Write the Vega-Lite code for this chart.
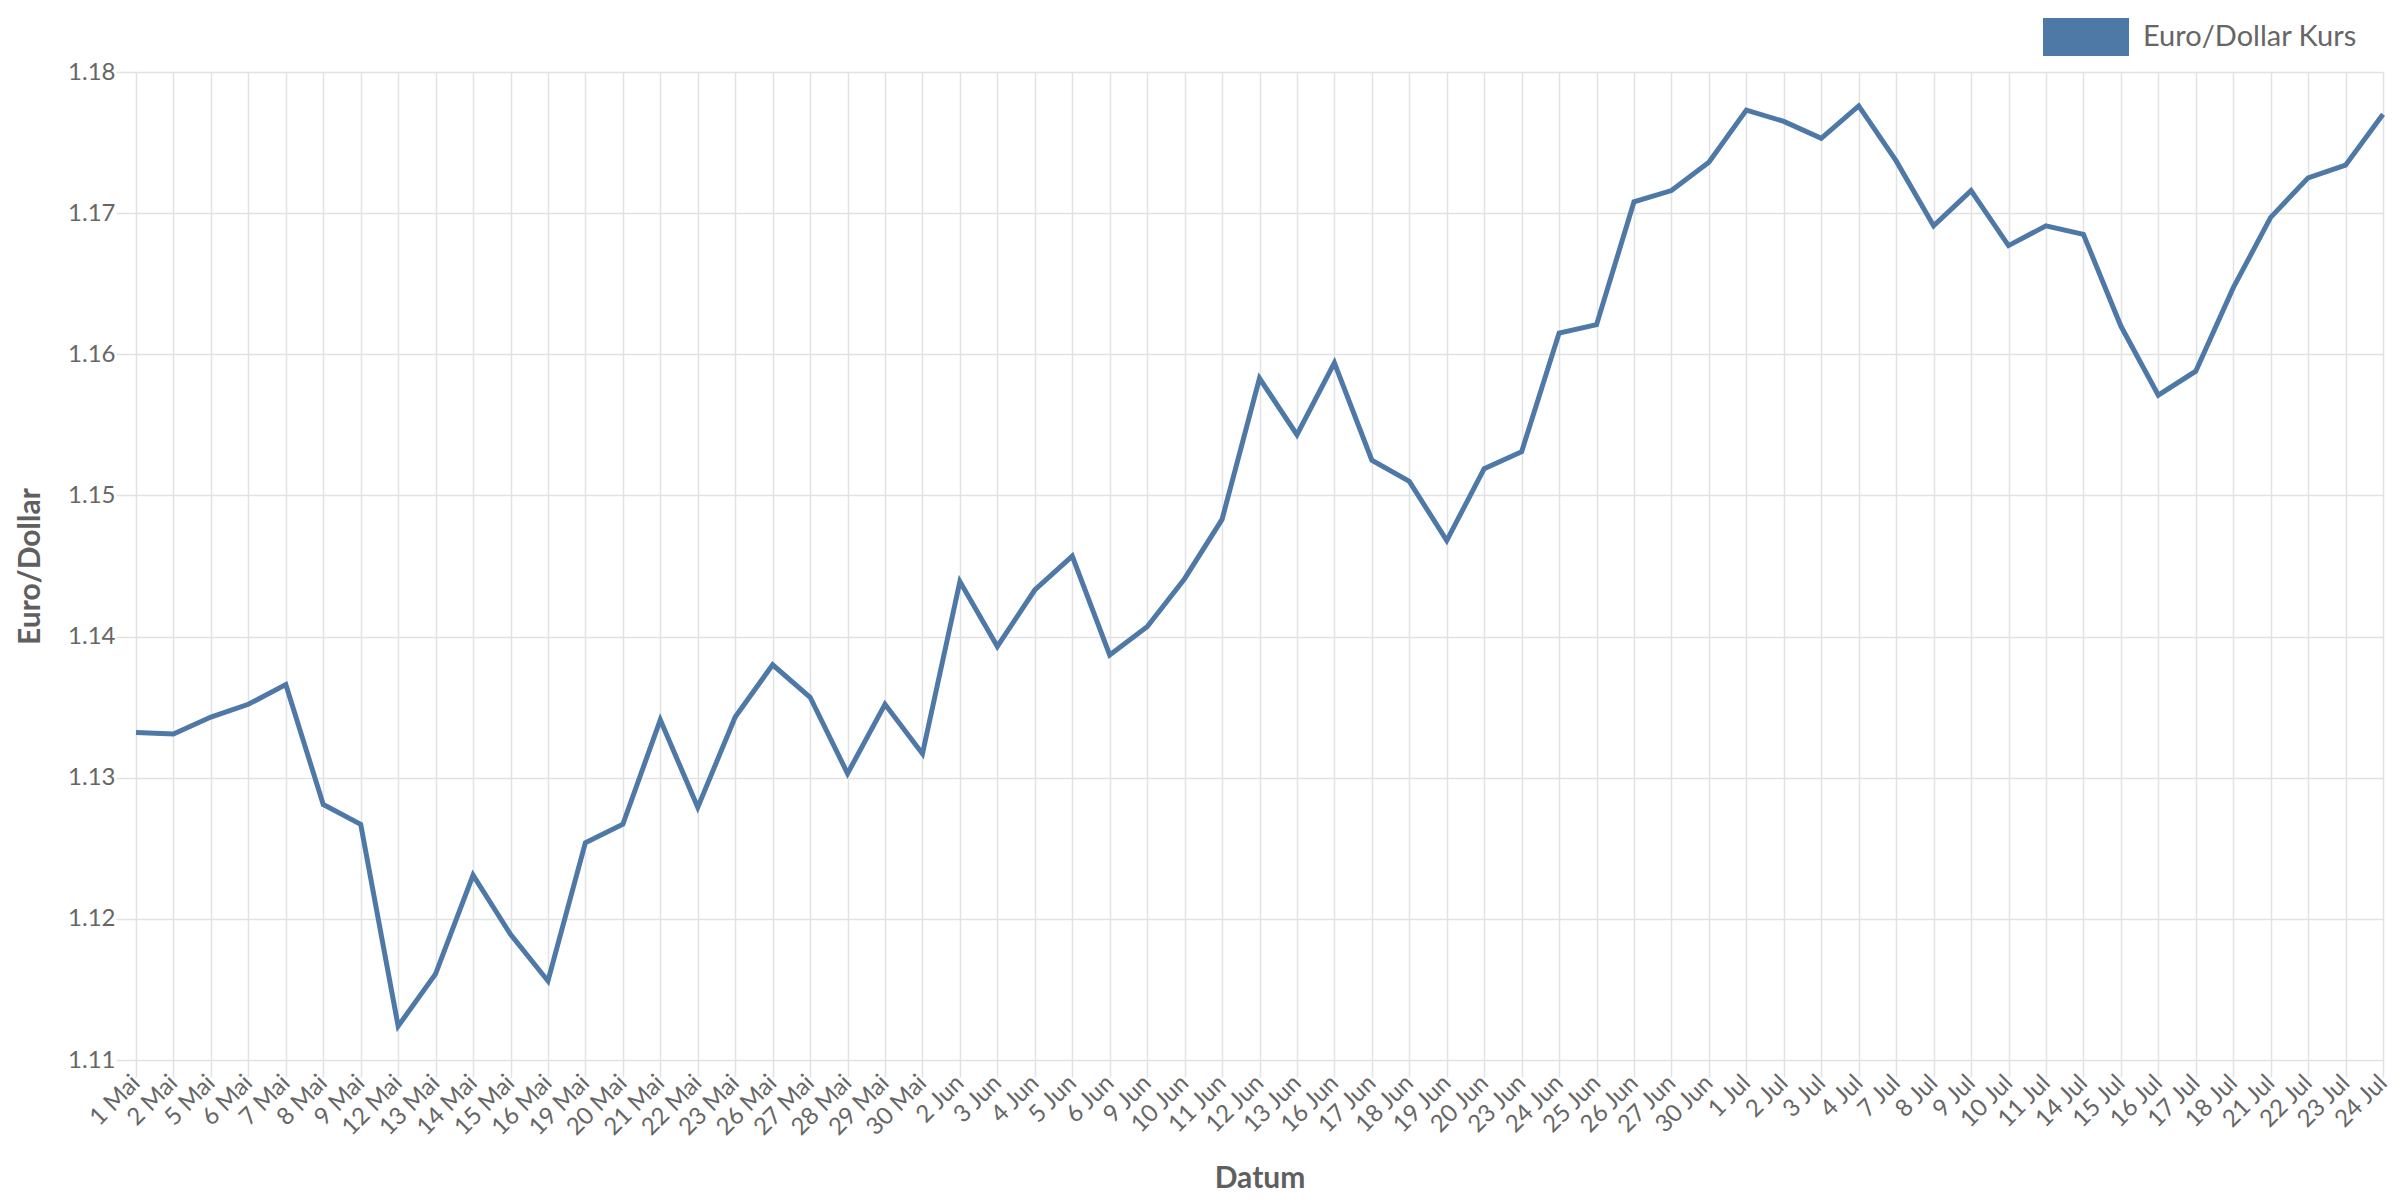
{
  "$schema": "https://vega.github.io/schema/vega-lite/v6.json",
  "width": 2247,
  "height": 988,
  "autosize": {"type": "none"},
  "padding": {"left": 136, "top": 72, "right": 17, "bottom": 140},
  "background": "white",
  "data": {
    "values": [
      {"Datum": "1 Mai", "Kurs": 1.1332, "Serie": "Euro/Dollar Kurs"},
      {"Datum": "2 Mai", "Kurs": 1.1331, "Serie": "Euro/Dollar Kurs"},
      {"Datum": "5 Mai", "Kurs": 1.1343, "Serie": "Euro/Dollar Kurs"},
      {"Datum": "6 Mai", "Kurs": 1.1352, "Serie": "Euro/Dollar Kurs"},
      {"Datum": "7 Mai", "Kurs": 1.1366, "Serie": "Euro/Dollar Kurs"},
      {"Datum": "8 Mai", "Kurs": 1.1281, "Serie": "Euro/Dollar Kurs"},
      {"Datum": "9 Mai", "Kurs": 1.1267, "Serie": "Euro/Dollar Kurs"},
      {"Datum": "12 Mai", "Kurs": 1.1124, "Serie": "Euro/Dollar Kurs"},
      {"Datum": "13 Mai", "Kurs": 1.1161, "Serie": "Euro/Dollar Kurs"},
      {"Datum": "14 Mai", "Kurs": 1.1231, "Serie": "Euro/Dollar Kurs"},
      {"Datum": "15 Mai", "Kurs": 1.1189, "Serie": "Euro/Dollar Kurs"},
      {"Datum": "16 Mai", "Kurs": 1.1156, "Serie": "Euro/Dollar Kurs"},
      {"Datum": "19 Mai", "Kurs": 1.1254, "Serie": "Euro/Dollar Kurs"},
      {"Datum": "20 Mai", "Kurs": 1.1267, "Serie": "Euro/Dollar Kurs"},
      {"Datum": "21 Mai", "Kurs": 1.1341, "Serie": "Euro/Dollar Kurs"},
      {"Datum": "22 Mai", "Kurs": 1.1279, "Serie": "Euro/Dollar Kurs"},
      {"Datum": "23 Mai", "Kurs": 1.1343, "Serie": "Euro/Dollar Kurs"},
      {"Datum": "26 Mai", "Kurs": 1.1380, "Serie": "Euro/Dollar Kurs"},
      {"Datum": "27 Mai", "Kurs": 1.1357, "Serie": "Euro/Dollar Kurs"},
      {"Datum": "28 Mai", "Kurs": 1.1303, "Serie": "Euro/Dollar Kurs"},
      {"Datum": "29 Mai", "Kurs": 1.1352, "Serie": "Euro/Dollar Kurs"},
      {"Datum": "30 Mai", "Kurs": 1.1317, "Serie": "Euro/Dollar Kurs"},
      {"Datum": "2 Jun", "Kurs": 1.1439, "Serie": "Euro/Dollar Kurs"},
      {"Datum": "3 Jun", "Kurs": 1.1393, "Serie": "Euro/Dollar Kurs"},
      {"Datum": "4 Jun", "Kurs": 1.1433, "Serie": "Euro/Dollar Kurs"},
      {"Datum": "5 Jun", "Kurs": 1.1457, "Serie": "Euro/Dollar Kurs"},
      {"Datum": "6 Jun", "Kurs": 1.1387, "Serie": "Euro/Dollar Kurs"},
      {"Datum": "9 Jun", "Kurs": 1.1407, "Serie": "Euro/Dollar Kurs"},
      {"Datum": "10 Jun", "Kurs": 1.1441, "Serie": "Euro/Dollar Kurs"},
      {"Datum": "11 Jun", "Kurs": 1.1483, "Serie": "Euro/Dollar Kurs"},
      {"Datum": "12 Jun", "Kurs": 1.1583, "Serie": "Euro/Dollar Kurs"},
      {"Datum": "13 Jun", "Kurs": 1.1543, "Serie": "Euro/Dollar Kurs"},
      {"Datum": "16 Jun", "Kurs": 1.1594, "Serie": "Euro/Dollar Kurs"},
      {"Datum": "17 Jun", "Kurs": 1.1525, "Serie": "Euro/Dollar Kurs"},
      {"Datum": "18 Jun", "Kurs": 1.1510, "Serie": "Euro/Dollar Kurs"},
      {"Datum": "19 Jun", "Kurs": 1.1468, "Serie": "Euro/Dollar Kurs"},
      {"Datum": "20 Jun", "Kurs": 1.1519, "Serie": "Euro/Dollar Kurs"},
      {"Datum": "23 Jun", "Kurs": 1.1531, "Serie": "Euro/Dollar Kurs"},
      {"Datum": "24 Jun", "Kurs": 1.1615, "Serie": "Euro/Dollar Kurs"},
      {"Datum": "25 Jun", "Kurs": 1.1621, "Serie": "Euro/Dollar Kurs"},
      {"Datum": "26 Jun", "Kurs": 1.1708, "Serie": "Euro/Dollar Kurs"},
      {"Datum": "27 Jun", "Kurs": 1.1716, "Serie": "Euro/Dollar Kurs"},
      {"Datum": "30 Jun", "Kurs": 1.1736, "Serie": "Euro/Dollar Kurs"},
      {"Datum": "1 Jul", "Kurs": 1.1773, "Serie": "Euro/Dollar Kurs"},
      {"Datum": "2 Jul", "Kurs": 1.1765, "Serie": "Euro/Dollar Kurs"},
      {"Datum": "3 Jul", "Kurs": 1.1753, "Serie": "Euro/Dollar Kurs"},
      {"Datum": "4 Jul", "Kurs": 1.1776, "Serie": "Euro/Dollar Kurs"},
      {"Datum": "7 Jul", "Kurs": 1.1737, "Serie": "Euro/Dollar Kurs"},
      {"Datum": "8 Jul", "Kurs": 1.1691, "Serie": "Euro/Dollar Kurs"},
      {"Datum": "9 Jul", "Kurs": 1.1716, "Serie": "Euro/Dollar Kurs"},
      {"Datum": "10 Jul", "Kurs": 1.1677, "Serie": "Euro/Dollar Kurs"},
      {"Datum": "11 Jul", "Kurs": 1.1691, "Serie": "Euro/Dollar Kurs"},
      {"Datum": "14 Jul", "Kurs": 1.1685, "Serie": "Euro/Dollar Kurs"},
      {"Datum": "15 Jul", "Kurs": 1.1620, "Serie": "Euro/Dollar Kurs"},
      {"Datum": "16 Jul", "Kurs": 1.1571, "Serie": "Euro/Dollar Kurs"},
      {"Datum": "17 Jul", "Kurs": 1.1588, "Serie": "Euro/Dollar Kurs"},
      {"Datum": "18 Jul", "Kurs": 1.1647, "Serie": "Euro/Dollar Kurs"},
      {"Datum": "21 Jul", "Kurs": 1.1697, "Serie": "Euro/Dollar Kurs"},
      {"Datum": "22 Jul", "Kurs": 1.1725, "Serie": "Euro/Dollar Kurs"},
      {"Datum": "23 Jul", "Kurs": 1.1734, "Serie": "Euro/Dollar Kurs"},
      {"Datum": "24 Jul", "Kurs": 1.1770, "Serie": "Euro/Dollar Kurs"}
    ]
  },
  "mark": {"type": "line", "strokeWidth": 5, "strokeJoin": "miter"},
  "encoding": {
    "x": {
      "field": "Datum",
      "type": "ordinal",
      "sort": null,
      "scale": {"type": "point", "padding": 0},
      "axis": {
        "title": "Datum",
        "grid": true,
        "labelAngle": -45,
        "labelAlign": "right",
        "labelBaseline": "middle",
        "labelPadding": 2,
        "ticks": true,
        "tickSize": 17,
        "titlePadding": 24
      }
    },
    "y": {
      "field": "Kurs",
      "type": "quantitative",
      "scale": {"domain": [1.11, 1.18], "zero": false, "nice": false},
      "axis": {
        "title": "Euro/Dollar",
        "values": [1.11, 1.12, 1.13, 1.14, 1.15, 1.16, 1.17, 1.18],
        "format": ".2f",
        "tickSize": 20,
        "labelPadding": 1,
        "titlePadding": 22
      }
    },
    "color": {
      "field": "Serie",
      "type": "nominal",
      "scale": {"range": ["#4e79a7"]},
      "legend": {
        "title": null,
        "orient": "none",
        "legendX": 1907,
        "legendY": -78,
        "padding": 0,
        "symbolType": "M-1,-0.44L1,-0.44L1,0.44L-1,0.44Z",
        "symbolSize": 7396,
        "symbolStrokeWidth": 0,
        "symbolFillColor": "#4e79a7",
        "labelFontSize": 29,
        "labelColor": "#666666",
        "labelOffset": 14,
        "labelLimit": 600,
        "labelFont": "Lato",
        "encode": {
          "symbols": {"update": {"fill": {"value": "#4e79a7"}, "strokeWidth": {"value": 0}}}
        }
      }
    }
  },
  "config": {
    "view": {"stroke": null},
    "font": "Lato",
    "axis": {
      "domain": false,
      "gridColor": "#e2e2e2",
      "gridWidth": 1.5,
      "tickColor": "#e2e2e2",
      "tickWidth": 1.5,
      "labelFont": "Lato",
      "labelFontSize": 24,
      "labelColor": "#666666",
      "titleFont": "Lato",
      "titleFontSize": 30,
      "titleFontWeight": "bold",
      "titleColor": "#5f5f5f"
    }
  }
}
